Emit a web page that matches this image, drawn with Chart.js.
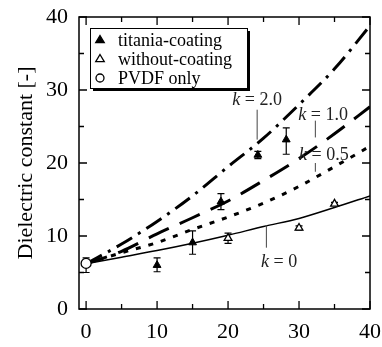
<!DOCTYPE html>
<html>
<head>
<meta charset="utf-8">
<script src="https://cdn.jsdelivr.net/npm/chart.js@4.4.1/dist/chart.umd.min.js"></script>
<style>
    body { margin: 0; background: #fff; }
    #wrap { width: 382px; height: 347px; position: relative; }
</style>
</head>
<body>
<div id="wrap"><canvas id="dcChart"></canvas></div>
<script>
// Data
const axisTicks = [0, 10, 20, 30, 40];
const minorTicks = [0, 5, 10, 15, 20, 25, 30, 35, 40];

// model curves, sampled at curveX
const curveX = [0, 5, 10, 15, 20, 25, 30, 35, 40];
const curveK0 = [6.2, 7.1, 8.0, 9.0, 10.1, 11.3, 12.4, 13.9, 15.5];
const curveK05 = [6.2, 7.7, 9.1, 10.9, 12.6, 14.5, 16.8, 19.5, 22.3];
const curveK1 = [6.2, 7.9, 10.3, 12.5, 14.8, 17.6, 20.6, 24.0, 27.7];
const curveK2 = [6.2, 8.9, 12.0, 15.5, 19.5, 23.4, 28.0, 32.9, 38.8];

// measured points
const titaniaX = [10, 15, 19, 24.2, 28.2];
const titaniaY = [6.0, 9.1, 14.7, 21.1, 23.2];
const titaniaLow = [5.1, 7.5, 13.6, 20.6, 21.2];
const titaniaHigh = [7.0, 10.7, 15.8, 21.6, 24.8];

const withoutX = [20, 30, 35];
const withoutY = [9.7, 11.1, 14.4];
const withoutLow = [9.0, 10.8, 14.2];
const withoutHigh = [10.4, 11.4, 14.6];

const pvdfX = [0];
const pvdfY = [6.25];
const pvdfLow = [5.0];
const pvdfHigh = [7.0];

// k labels: [text, x, y, leaderX, leaderY1, leaderY2]
const kLabels = [
    ['2.0', 24.1, 28.6, 24.1, 27.3, 23.2],
    ['1.0', 33.4, 26.6, 32.3, 25.8, 23.5],
    ['0.5', 33.5, 21.1, 32.3, 20.0, 18.8],
    ['0', 27.2, 6.4, 25.4, 11.5, 8.4]
];

const legendItems = ['titania-coating', 'without-coating', 'PVDF only'];

const serif = '"Liberation Serif", "DejaVu Serif", serif';

function toXY(xs, ys) {
    return xs.map((x, i) => ({ x: x, y: ys[i] }));
}

function drawTriangle(ctx, x, y, r, filled) {
    ctx.beginPath();
    ctx.moveTo(x, y - r);
    ctx.lineTo(x + r * 0.95, y + r * 0.6);
    ctx.lineTo(x - r * 0.95, y + r * 0.6);
    ctx.closePath();
    ctx.fillStyle = filled ? '#000' : '#fff';
    ctx.fill();
    ctx.lineWidth = 1.3;
    ctx.strokeStyle = '#000';
    ctx.stroke();
}

const errorBars = {
    id: 'errorBars',
    beforeDatasetsDraw(chart) {
        const ctx = chart.ctx;
        const xs = chart.scales.x, ys = chart.scales.y;
        const sets = [
            [titaniaX, titaniaLow, titaniaHigh],
            [withoutX, withoutLow, withoutHigh],
            [pvdfX, pvdfLow, pvdfHigh]
        ];
        ctx.save();
        ctx.strokeStyle = '#000';
        ctx.lineWidth = 1.2;
        sets.forEach(s => {
            s[0].forEach((x, i) => {
                const px = xs.getPixelForValue(x);
                const y1 = ys.getPixelForValue(s[1][i]);
                const y2 = ys.getPixelForValue(s[2][i]);
                ctx.beginPath();
                ctx.moveTo(px, y1); ctx.lineTo(px, y2);
                ctx.moveTo(px - 3.5, y1); ctx.lineTo(px + 3.5, y1);
                ctx.moveTo(px - 3.5, y2); ctx.lineTo(px + 3.5, y2);
                ctx.stroke();
            });
        });
        ctx.restore();
    }
};

const frameAndNotes = {
    id: 'frameAndNotes',
    afterDraw(chart) {
        const ctx = chart.ctx;
        const a = chart.chartArea;
        const xs = chart.scales.x, ys = chart.scales.y;
        ctx.save();

        // frame
        ctx.strokeStyle = '#000';
        ctx.lineWidth = 1.5;
        ctx.strokeRect(a.left, a.top, a.right - a.left, a.bottom - a.top);

        // inward ticks on all four sides
        ctx.lineWidth = 1.3;
        minorTicks.forEach(v => {
            const len = axisTicks.includes(v) ? 8 : 5;
            const px = xs.getPixelForValue(v);
            const py = ys.getPixelForValue(v);
            ctx.beginPath();
            ctx.moveTo(px, a.bottom); ctx.lineTo(px, a.bottom - len);
            ctx.moveTo(px, a.top); ctx.lineTo(px, a.top + len);
            ctx.moveTo(a.left, py); ctx.lineTo(a.left + len, py);
            ctx.moveTo(a.right, py); ctx.lineTo(a.right - len, py);
            ctx.stroke();
        });

        // k annotations
        ctx.textBaseline = 'middle';
        kLabels.forEach(k => {
            const cx = xs.getPixelForValue(k[1]);
            const cy = ys.getPixelForValue(k[2]);
            ctx.font = 'italic 18px ' + serif;
            const w1 = ctx.measureText('k').width;
            ctx.font = '18px ' + serif;
            const rest = ' = ' + k[0];
            const w2 = ctx.measureText(rest).width;
            const x0 = cx - (w1 + w2) / 2;
            ctx.fillStyle = '#222';
            ctx.font = 'italic 18px ' + serif;
            ctx.fillText('k', x0, cy);
            ctx.font = '18px ' + serif;
            ctx.fillText(rest, x0 + w1, cy);

            const lx = xs.getPixelForValue(k[3]);
            ctx.strokeStyle = '#444';
            ctx.lineWidth = 1;
            ctx.beginPath();
            ctx.moveTo(lx, ys.getPixelForValue(k[4]));
            ctx.lineTo(lx, ys.getPixelForValue(k[5]));
            ctx.stroke();
        });

        // legend box with shadow
        const bx = 90, by = 28, bw = 157, bh = 60;
        ctx.fillStyle = '#000';
        ctx.fillRect(bx + 3, by + 3, bw, bh);
        ctx.fillStyle = '#fff';
        ctx.fillRect(bx, by, bw, bh);
        ctx.strokeStyle = '#000';
        ctx.lineWidth = 1;
        ctx.strokeRect(bx + 0.5, by + 0.5, bw, bh);

        ctx.font = '18px ' + serif;
        legendItems.forEach((label, i) => {
            const ly = by + 12 + i * 19;
            if (i === 0) drawTriangle(ctx, 100, ly, 4.5, true);
            if (i === 1) drawTriangle(ctx, 100, ly, 4.5, false);
            if (i === 2) {
                ctx.beginPath();
                ctx.arc(100, ly, 4, 0, Math.PI * 2);
                ctx.fillStyle = '#fff';
                ctx.fill();
                ctx.lineWidth = 1.3;
                ctx.strokeStyle = '#000';
                ctx.stroke();
            }
            ctx.fillStyle = '#000';
            ctx.fillText(label, 118, ly + 1);
        });

        ctx.restore();
    }
};

const ctxDc = document.getElementById('dcChart').getContext('2d');

new Chart(ctxDc, {
    type: 'scatter',
    data: {
        datasets: [
            {
                label: 'titania-coating',
                data: toXY(titaniaX, titaniaY),
                pointStyle: 'triangle',
                pointRadius: 4.5,
                backgroundColor: '#000',
                borderColor: '#000',
                borderWidth: 1
            },
            {
                label: 'without-coating',
                data: toXY(withoutX, withoutY),
                pointStyle: 'triangle',
                pointRadius: 4.5,
                backgroundColor: '#fff',
                borderColor: '#000',
                borderWidth: 1.3
            },
            {
                label: 'PVDF only',
                data: toXY(pvdfX, pvdfY),
                pointStyle: 'circle',
                pointRadius: 5,
                backgroundColor: '#fff',
                borderColor: '#000',
                borderWidth: 1.3
            },
            {
                label: 'k = 0',
                type: 'line',
                data: toXY(curveX, curveK0),
                borderColor: '#000',
                borderWidth: 1.5,
                pointRadius: 0,
                cubicInterpolationMode: 'monotone',
                fill: false
            },
            {
                label: 'k = 0.5',
                type: 'line',
                data: toXY(curveX, curveK05),
                borderColor: '#000',
                borderWidth: 3,
                borderDash: [5, 8],
                pointRadius: 0,
                cubicInterpolationMode: 'monotone',
                fill: false
            },
            {
                label: 'k = 1.0',
                type: 'line',
                data: toXY(curveX, curveK1),
                borderColor: '#000',
                borderWidth: 3,
                borderDash: [22, 12],
                pointRadius: 0,
                cubicInterpolationMode: 'monotone',
                fill: false
            },
            {
                label: 'k = 2.0',
                type: 'line',
                data: toXY(curveX, curveK2),
                borderColor: '#000',
                borderWidth: 3,
                borderDash: [18, 7, 3, 7],
                pointRadius: 0,
                cubicInterpolationMode: 'monotone',
                fill: false
            }
        ]
    },
    options: {
        responsive: true,
        maintainAspectRatio: false,
        animation: false,
        events: [],
        layout: { padding: { top: 17, right: 12, left: 0, bottom: 0 } },
        plugins: {
            legend: { display: false },
            tooltip: { enabled: false }
        },
        scales: {
            x: {
                type: 'linear',
                min: -1,
                max: 40,
                afterBuildTicks: (scale) => { scale.ticks = axisTicks.map(v => ({ value: v })); },
                afterFit: (scale) => {
                    scale.height = 38;
                    scale.paddingLeft = 0;
                    scale.paddingRight = 0;
                },
                grid: { display: false, drawTicks: false },
                border: { display: false },
                ticks: {
                    color: '#000',
                    padding: 10,
                    maxRotation: 0,
                    font: { family: serif, size: 22 }
                }
            },
            y: {
                type: 'linear',
                min: 0,
                max: 40,
                afterBuildTicks: (scale) => { scale.ticks = axisTicks.map(v => ({ value: v })); },
                afterFit: (scale) => {
                    scale.width = 79;
                    scale.paddingTop = 0;
                    scale.paddingBottom = 0;
                },
                grid: { display: false, drawTicks: false },
                border: { display: false },
                title: {
                    display: true,
                    text: 'Dielectric constant [-]',
                    color: '#000',
                    padding: { top: 13, bottom: 0 },
                    font: { family: serif, size: 22 }
                },
                ticks: {
                    color: '#000',
                    padding: 11,
                    font: { family: serif, size: 22 }
                }
            }
        }
    },
    plugins: [errorBars, frameAndNotes]
});
</script>
</body>
</html>
